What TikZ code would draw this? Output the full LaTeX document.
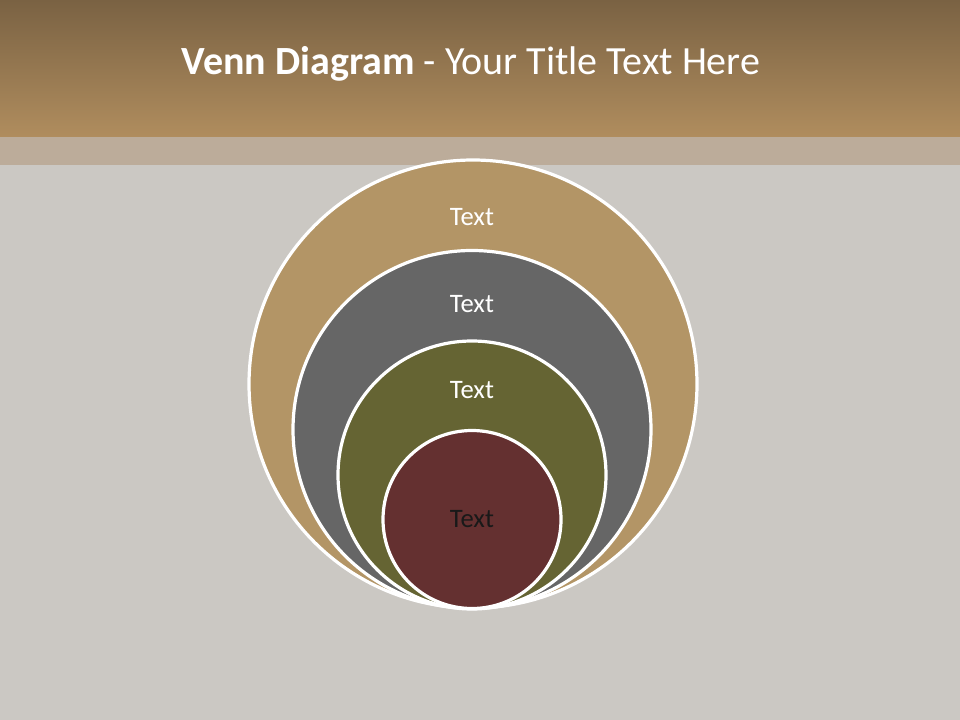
\documentclass[tikz,border=0pt]{standalone}
\usepackage{fontspec}
\setmainfont{Carlito}
\usetikzlibrary{positioning}

\definecolor{bgGray}{HTML}{CBC8C3}
\definecolor{headTop}{HTML}{7A6243}
\definecolor{headBot}{HTML}{B08D5E}
\definecolor{stripTan}{HTML}{BCAC9A}
\definecolor{ringTan}{HTML}{B39566}
\definecolor{ringGray}{HTML}{666666}
\definecolor{ringOlive}{HTML}{656433}
\definecolor{ringRed}{HTML}{643030}

\begin{document}
\begin{tikzpicture}[
    x=0.75pt, y=-0.75pt,
    ring/.style={circle, draw=white, line width=2.4pt, inner sep=0pt},
    lbl/.style={font=\fontsize{20}{24}\selectfont, text=white},
    title/.style={font=\fontsize{30}{36}\selectfont, text=white}
  ]

  % Background
  \fill[bgGray] (0,0) rectangle (960,720);
  \useasboundingbox (0,0) rectangle (960,720);
  \shade[top color=headTop, bottom color=headBot] (0,0) rectangle (960,137);
  \fill[stripTan] (0,137) rectangle (960,165);

  % Title
  \node[title] (hdr) at (471,64) {\textbf{Venn Diagram} - Your Title Text Here};

  % Nested circles
  \node[ring, fill=ringTan, minimum size=336pt] (c1) at (473,384) {};
  \node[ring, fill=ringGray, minimum size=268.5pt] (c2) at (472,429.5) {};
  \node[ring, fill=ringOlive, minimum size=201pt] (c3) at (472,475) {};
  \node[ring, fill=ringRed, minimum size=133.5pt] (c4) at (472,519.5) {};

  % Labels
  \node[lbl] (t1) at (472,217) {Text};
  \node[lbl] (t2) at (472,304) {Text};
  \node[lbl] (t3) at (472,390) {Text};
  \node[lbl, text=black!90] (t4) at (c4) {Text};

\end{tikzpicture}
\end{document}
